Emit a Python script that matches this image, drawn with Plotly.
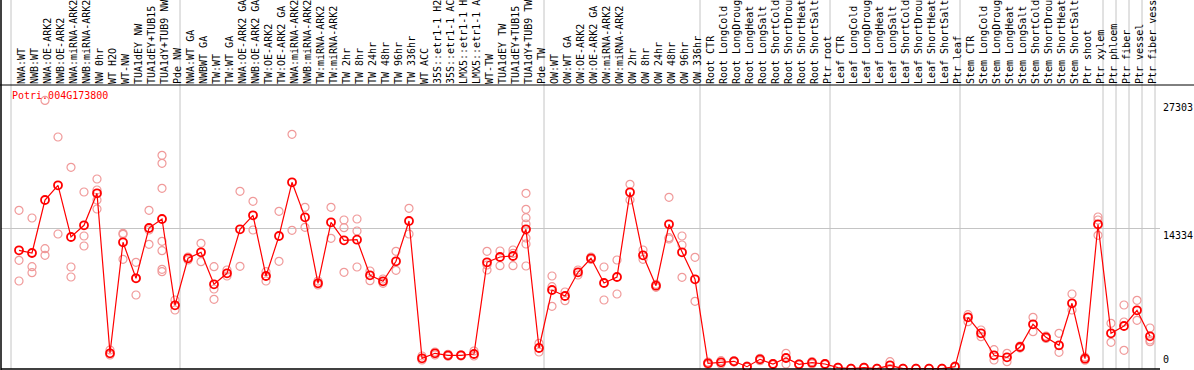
import plotly.graph_objects as go

# ---------------- data ----------------
gene_id = "Potri.004G173800"

samples = [
    "NWA:WT", "NWB:WT", "NWA:OE-ARK2", "NWB:OE-ARK2", "NWA:miRNA-ARK2", "NWB:miRNA-ARK2",
    "NW 0hr", "WT H2O", "WT-NW", "TUA1dEY NW", "TUA1dEY+TUB15", "TUA1dY+TUB9 NW", "Pde NW",
    "NWA:WT GA", "NWBWT GA", "TW:WT", "TW:WT GA", "NWA:OE-ARK2 GA", "NWB:OE-ARK2 GA",
    "TW:OE-ARK2", "TW:OE-ARK2 GA", "NWA:miRNA-ARK2", "NWB:miRNA-ARK2", "TW:miRNA-ARK2",
    "TW:miRNA-ARK2", "TW 2hr", "TW 8hr", "TW 24hr", "TW 48hr", "TW 96hr", "TW 336hr",
    "WT ACC", "35S::etr1-1 H2O", "35S::etr1-1 ACC", "LMX5::etr1-1 H2O", "LMX5::etr1-1 ACC",
    "WT-TW", "TUA1dEY TW", "TUA1dEY+TUB15", "TUA1dY+TUB9 TW", "Pde TW",
    "OW:WT", "OW:WT GA", "OW:OE-ARK2", "OW:OE-ARK2 GA", "OW:miRNA-ARK2", "OW:miRNA-ARK2",
    "OW 2hr", "OW 8hr", "OW 24hr", "OW 48hr", "OW 96hr", "OW 336hr",
    "Root CTR", "Root LongCold", "Root LongDrought", "Root LongHeat", "Root LongSalt",
    "Root ShortCold", "Root ShortDrought", "Root ShortHeat", "Root ShortSalt", "Ptr root",
    "Leaf CTR", "Leaf LongCold", "Leaf LongDrought", "Leaf LongHeat", "Leaf LongSalt",
    "Leaf ShortCold", "Leaf ShortDrought", "Leaf ShortHeat", "Leaf ShortSalt", "Ptr leaf",
    "Stem CTR", "Stem LongCold", "Stem LongDrought", "Stem LongHeat", "Stem LongSalt",
    "Stem ShortCold", "Stem ShortDrought", "Stem ShortHeat", "Stem ShortSalt", "Ptr shoot",
    "Ptr xylem", "Ptr phloem", "Ptr fiber", "Ptr vessel", "Ptr fiber vessel",
]

means = [
    12067, 11793, 17181, 18675, 13419, 14609, 17862, 1596, 12880, 9221, 14334, 15249, 6476,
    11254, 11864, 8611, 9729, 14202, 15625, 9454, 13521, 18980, 15422, 8712, 14914,
    13084, 13145, 9526, 8916, 10949, 15046, 1088, 1596, 1393, 1393, 1525,
    10847, 11386, 11488, 14202, 2135,
    8031, 7421, 9831, 11254, 8743, 9353, 17964, 11559, 8468, 14710, 11864, 9119,
    579, 681, 783, 234, 986, 508, 1118, 478, 640, 508,
    132, 30, 132, 30, 376, 30, 30, 30, 30, 234,
    5256, 3629, 1393, 1189, 2237, 4544, 3223, 2409, 6679, 1047,
    14710, 3629, 4371, 5967, 3324,
]

replicates = [
    [16133, 11050, 8946], [15351, 10400, 9790], [27303, 12230, 11559], [23585, 13724],
    [20505, 10369, 9353], [17994, 13521, 12504], [19315, 18197, 17181, 16266], [1932, 1423],
    [13795, 13694, 11152], [10847, 9251, 7523], [16133, 14131, 12677],
    [21725, 20911, 18370, 12982, 12026, 10136, 9891], [7015, 5998],
    [11386, 11081], [12779, 10908], [10400, 8133, 7086], [10064, 9454], [18065, 10441],
    [17049, 14131], [9891, 8946], [16032, 10949], [23860, 14100], [16439, 14405],
    [8946, 8539], [16439, 13287], [15147, 14365, 9831], [15249, 14029, 10369],
    [9963, 8977], [9149, 8712], [11966, 10034], [16337, 13724],
    [1322, 915], [1728, 1423], [1500, 1300], [1450, 1330], [1830, 1322],
    [11966, 10573, 10064], [11996, 10502], [12098, 11762, 10502],
    [17862, 16235, 15381, 14741, 13317, 12708, 10471], [2613, 1728],
    [9454, 8367, 6374], [7828, 6943], [10064, 9556], [11386, 11132], [10369, 7015],
    [11081, 7625], [18777, 17181], [12098, 11152], [8611, 8306], [17455, 13348, 13216],
    [13521, 12606, 9322], [11356, 6882],
    [700, 450], [844, 508], [850, 700], [300, 150], [1088, 844], [560, 450], [1596, 508],
    [520, 430], [760, 508], [560, 450],
    [180, 90], [60, 10], [180, 90], [60, 10], [742, 50], [60, 10], [60, 10], [60, 10],
    [60, 10], [300, 170],
    [5520, 4809], [3965, 3284], [1962, 915], [1596, 742], [2340, 2130], [5256, 3792],
    [3350, 3100], [3629, 1698], [7625, 5998], [1200, 900],
    [15452, 15147, 13592], [4646, 2714], [6506, 4778, 1901], [6984, 4951],
    [4168, 2948, 2775],
]

y_labels = [27303, 14334, 0]
group_starts = [0, 13, 41, 53, 63, 73, 84, 85, 86, 87, 88]

# ---------------- figure ----------------
FONT = "DejaVu Sans Mono"
W, H = 1194, 370
ML, MR, MT, MB = 1, 34, 85, 1
plot_w = W - ML - MR
plot_h = H - MT - MB
step = 13.0
first_px = 19.0
x_range = [(ML - first_px) / step, (W - MR - first_px) / step]
y_top = 28871
idx = list(range(len(samples)))

rep_x, rep_y = [], []
for i, reps in enumerate(replicates):
    for v in reps:
        rep_x.append(i)
        rep_y.append(v)

fig = go.Figure()
fig.add_trace(go.Scatter(
    x=rep_x, y=rep_y, mode="markers", cliponaxis=False, hoverinfo="skip",
    marker=dict(symbol="circle-open", size=8, color="#f09a9a", line=dict(width=1.2)),
    showlegend=False,
))
fig.add_trace(go.Scatter(
    x=idx, y=means, mode="lines+markers", cliponaxis=False,
    line=dict(color="#ff0000", width=1.2),
    marker=dict(symbol="circle-open", size=8, color="#ff0000", line=dict(width=1.8)),
    showlegend=False,
))

shapes = []
top_paper = 1 + MT / plot_h + 0.01
for g in group_starts:
    shapes.append(dict(type="line", xref="x", yref="paper",
                       x0=g - 8 / step, x1=g - 8 / step, y0=0, y1=top_paper,
                       line=dict(color="#c4c4c4", width=1), layer="below"))
# black frame lines
shapes.append(dict(type="line", xref="paper", yref="paper",
                   x0=-ML / plot_w, x1=(W - ML) / plot_w, y0=1, y1=1,
                   line=dict(color="black", width=1)))
shapes.append(dict(type="line", xref="paper", yref="paper",
                   x0=0, x1=0, y0=-MB / plot_h, y1=top_paper,
                   line=dict(color="black", width=1.5)))
shapes.append(dict(type="line", xref="paper", yref="paper",
                   x0=0, x1=1, y0=0, y1=0,
                   line=dict(color="black", width=1.5)))

annotations = [dict(
    text=gene_id, xref="paper", yref="paper",
    x=(10 - ML) / plot_w, y=1 - (96 - MT) / plot_h,
    xanchor="left", yanchor="middle", showarrow=False,
    font=dict(family=FONT, size=10, color="#ff0000"),
)]
for v in y_labels:
    annotations.append(dict(
        text=str(v), xref="paper", yref="y", x=1, y=v,
        xanchor="left", yanchor="bottom" if v == 0 else "top",
        xshift=1, yshift=2 if v == 0 else 0, showarrow=False,
        font=dict(family=FONT, size=10, color="black"),
    ))

fig.update_layout(
    template="none",
    width=W, height=H,
    margin=dict(l=ML, r=MR, t=MT, b=MB, pad=0),
    paper_bgcolor="white", plot_bgcolor="white",
    showlegend=False,
    shapes=shapes,
    annotations=annotations,
    xaxis=dict(
        side="top", range=x_range, tickmode="array", tickvals=idx, ticktext=samples,
        tickangle=-90, ticks="", showgrid=False, zeroline=False, showline=False,
        automargin=False, ticklabelshift=3,
        tickfont=dict(family=FONT, size=10, color="black"),
    ),
    yaxis=dict(
        range=[0, y_top], tickmode="array", tickvals=[14334], showticklabels=False,
        showgrid=True, gridcolor="#c4c4c4", gridwidth=1, zeroline=False,
        showline=False, ticks="", automargin=False,
    ),
)

fig.write_html(
    "out.html",
    config={"displayModeBar": False},
    post_script="document.body.style.margin='0';document.body.style.overflow='hidden';",
)
